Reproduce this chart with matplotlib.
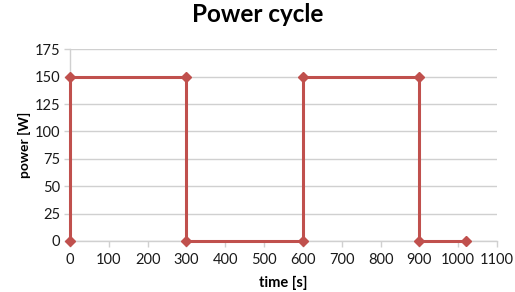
import matplotlib
matplotlib.use("Agg")
import matplotlib.pyplot as plt

# data
time_s = [0, 0, 300, 300, 600, 600, 900, 900, 1020]
power_w = [0, 150, 150, 0, 0, 150, 150, 0, 0]

x_ticks = list(range(0, 1101, 100))
y_ticks = list(range(0, 176, 25))

RED = "#C0504D"
GRID = "#D0D0D0"
plt.rcParams["font.family"] = ["Lato", "DejaVu Sans"]

fig = plt.figure(figsize=(5.15, 2.92), dpi=100)
ax = fig.add_axes([0.136, 0.175, 0.829, 0.656])

ax.plot(time_s, power_w, color=RED, lw=2.2, marker="D", ms=5.5,
        mec=RED, mfc=RED, clip_on=False, zorder=3)

ax.set_xlim(0, 1100)
ax.set_ylim(0, 175)
ax.set_xticks(x_ticks)
ax.set_yticks(y_ticks)
ax.grid(axis="y", color=GRID, lw=1.0)
ax.set_axisbelow(True)

for s in ["top", "right"]:
    ax.spines[s].set_visible(False)
for s in ["left", "bottom"]:
    ax.spines[s].set_color(GRID)
    ax.spines[s].set_linewidth(1.0)

ax.tick_params(axis="both", colors=GRID, labelcolor="#1a1a1a",
               labelsize=10.5, length=4, width=1.0)
ax.tick_params(axis="x", pad=5)
ax.tick_params(axis="y", pad=3)

ax.set_xlabel("time [s]", fontsize=10.5, fontweight="bold", labelpad=6)
ax.set_ylabel("power [W]", fontsize=10, fontweight="bold", labelpad=3)
fig.suptitle("Power cycle", fontsize=17.5, fontweight="bold", y=0.99)

fig.savefig("out.png", dpi=100, facecolor="white")
